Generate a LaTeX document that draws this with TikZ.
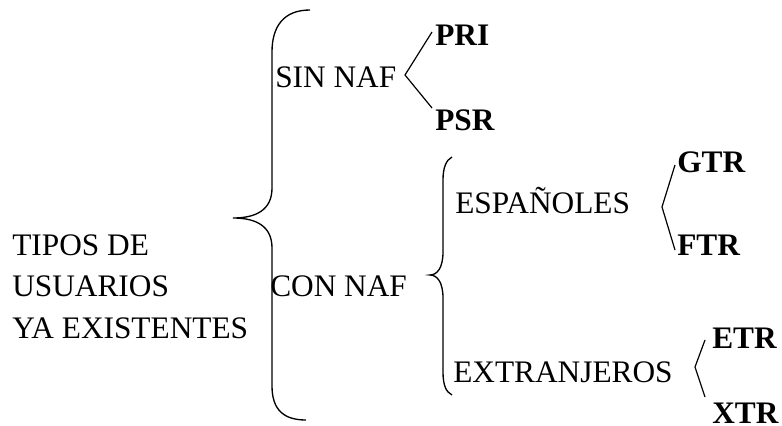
\documentclass[tikz,border=0pt]{standalone}
\usepackage{fontspec}
\setmainfont{Liberation Serif}
\usetikzlibrary{positioning}

\begin{document}
\begin{tikzpicture}[
    x=0.75pt, y=-0.75pt,
    txt/.style={anchor=base west, inner sep=0pt, font=\fontsize{23.5}{28}\selectfont},
    code/.style={txt, font=\fontsize{23.5}{28}\selectfont\bfseries},
    brace/.style={draw, line width=1pt},
    fork/.style={draw, line width=0.9pt}
]
\useasboundingbox (0,0) rectangle (782,425);

% Root
\node[txt] (tipos) at (12,255) {TIPOS DE};
\node[txt] (usuarios) at (12,296) {USUARIOS};
\node[txt] (existentes) at (12,338) {YA EXISTENTES};

% Main brace
\draw[brace] (310,10) .. controls (284,10) and (272,26) .. (272,52) -- (272,188)
    .. controls (272,210) and (256,218) .. (233,218)
    .. controls (256,218) and (272,226) .. (272,248) -- (272,386)
    .. controls (272,410) and (284,420) .. (306,420);

% Sin NAF
\node[txt] (sinnaf) at (275,87) {SIN NAF};
\node[code] (pri) at (435,45) {PRI};
\node[code] (psr) at (435,130) {PSR};
\coordinate (sintip) at (405,75);
\draw[fork] (432,32) -- (sintip) -- (432,108);

% Con NAF
\node[txt] (connaf) at (270,296) {CON NAF};

% Second brace
\draw[brace] (452,157) .. controls (446,160) and (443,168) .. (443,180) -- (443,252)
    .. controls (443,268) and (437,275) .. (430,275)
    .. controls (437,275) and (443,282) .. (443,298) -- (443,372)
    .. controls (443,385) and (446,392) .. (452,395);

% Espanoles
\node[txt] (espanoles) at (455,213) {ESPAÑOLES};
\node[code] (gtr) at (677,172) {GTR};
\node[code] (ftr) at (677,255) {FTR};
\coordinate (esptip) at (662,207);
\draw[fork] (675,165) -- (esptip) -- (675,250);

% Extranjeros
\node[txt] (extranjeros) at (453,382) {EXTRANJEROS};
\node[code] (etr) at (712,348) {ETR};
\node[code] (xtr) at (712,423) {XTR};
\coordinate (exttip) at (695,367);
\draw[fork] (705,340) -- (exttip) -- (705,397);

\end{tikzpicture}
\end{document}
